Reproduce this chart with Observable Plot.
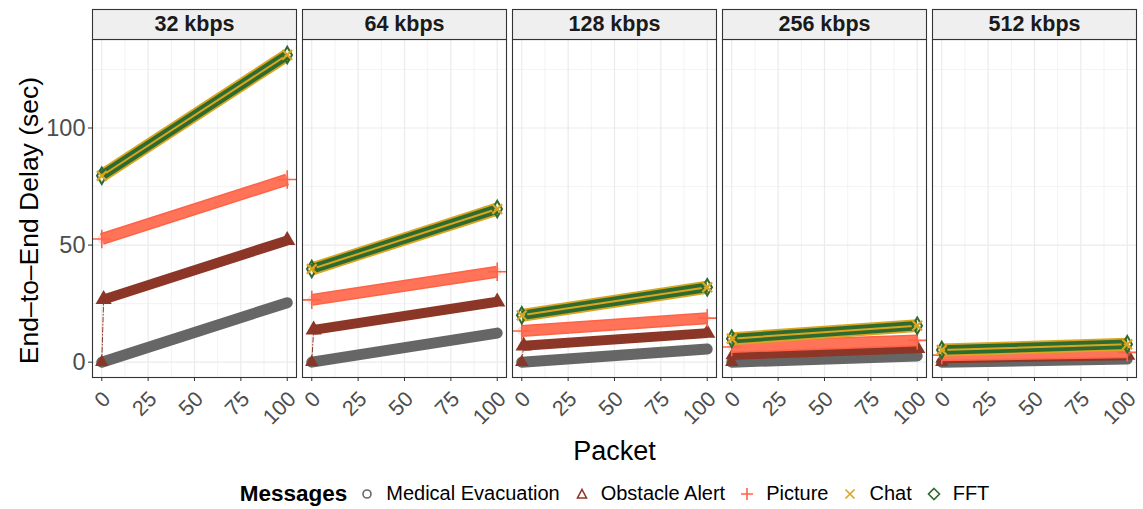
<!DOCTYPE html>
<html><head><meta charset="utf-8">
<script src="https://cdn.jsdelivr.net/npm/d3@7"></script>
<script src="https://cdn.jsdelivr.net/npm/@observablehq/plot@0.6"></script>
<style>
html,body{margin:0;padding:0;background:#fff;}
body{width:1143px;height:509px;overflow:hidden;font-family:"Liberation Sans",Arial,Helvetica,sans-serif;}
#legend{display:flex;align-items:center;justify-content:center;height:39px;font-size:20px;color:#000;padding-left:86px;padding-top:4px;}
#legend .title{font-weight:bold;font-size:22.5px;margin-right:13px;}
#legend .item{display:flex;align-items:center;margin-right:15px;}
#legend .item:last-child{margin-right:0;}
#legend svg{margin-right:12px;}
</style></head>
<body><div id="chart"></div><div id="legend"></div>
<script>
const speeds = ["32 kbps", "64 kbps", "128 kbps", "256 kbps", "512 kbps"];
const messages = ["Medical Evacuation", "Obstacle Alert", "Picture", "Chat", "FFT"];
const colors = ["#666666", "#8B3626", "#FF6347", "#DAA520", "#2E6B2E"];
const symbols = ["circle", "triangle", "plus", "times", "diamond"];
const firstPacket = 0, jumpPacket = 1, lastPacket = 100;
// delay (sec) per speed
const medicalFirst = [0, 0, 0, 0, 0];
const medicalLast = [25.4, 12.4, 5.6, 2.6, 1.3];
const obstacleFirst = [0, 0, 0, 0, 0];
const obstacleJump = [26.8, 13.8, 7.0, 3.2, 1.7];
const obstacleLast = [52.0, 25.8, 12.4, 5.9, 3.0];
const pictureFirst = [52.6, 26.6, 13.3, 6.5, 3.0];
const pictureLast = [78.0, 38.6, 18.8, 9.3, 4.2];
const chatFirst = [79.6, 39.8, 20.0, 10.0, 5.2];
const chatLast = [131.2, 65.4, 32.0, 15.6, 7.6];
const fftFirst = [79.6, 39.8, 20.0, 10.0, 5.2];
const fftLast = [131.2, 65.4, 32.0, 15.6, 7.6];
const xTicks = [0, 25, 50, 75, 100];
const xMinor = [12.5, 37.5, 62.5, 87.5];
const yTicks = [0, 50, 100];
const yMinor = [25, 75, 125];

const rows = [];
speeds.forEach((s, i) => {
  const add = (m, p, v, band) => rows.push({speed: s, message: m, packet: p, delay: v, band});
  add(messages[0], firstPacket, medicalFirst[i], true);
  add(messages[0], lastPacket, medicalLast[i], true);
  add(messages[1], firstPacket, obstacleFirst[i], false);
  add(messages[1], jumpPacket, obstacleJump[i], true);
  add(messages[1], lastPacket, obstacleLast[i], true);
  add(messages[2], firstPacket, pictureFirst[i], true);
  add(messages[2], lastPacket, pictureLast[i], true);
  add(messages[3], firstPacket, chatFirst[i], true);
  add(messages[3], lastPacket, chatLast[i], true);
  add(messages[4], firstPacket, fftFirst[i], true);
  add(messages[4], lastPacket, fftLast[i], true);
});
const of = (m) => rows.filter(d => d.message === m);
const bandOf = (m) => rows.filter(d => d.message === m && d.band);

const H = 470, mT = 39, mB = 93;
const panelH = H - mT - mB;
const common = {x: "packet", y: "delay", fx: "speed"};

const marks = [
  Plot.gridX(xMinor, {stroke: "#ebebeb", strokeOpacity: 1, strokeWidth: 0.6}),
  Plot.gridY(yMinor, {stroke: "#ebebeb", strokeOpacity: 1, strokeWidth: 0.6}),
  Plot.gridX(xTicks, {stroke: "#ebebeb", strokeOpacity: 1, strokeWidth: 1.2}),
  Plot.gridY(yTicks, {stroke: "#ebebeb", strokeOpacity: 1, strokeWidth: 1.2}),
  // thin connecting lines
  Plot.line(of(messages[1]), {...common, stroke: colors[1], strokeWidth: 1, strokeDasharray: "5,2,1,2"}),
  // bands of dense markers
  Plot.line(bandOf(messages[0]), {...common, stroke: colors[0], strokeWidth: 11, strokeLinecap: "round"}),
  Plot.dot(of(messages[1]).filter(d => d.packet === firstPacket), {...common, symbol: "triangle", fill: colors[1], r: 5}),
  Plot.line(bandOf(messages[1]), {...common, stroke: colors[1], strokeWidth: 10, strokeLinecap: "butt"}),
  Plot.dot(bandOf(messages[1]), {...common, symbol: "triangle", fill: colors[1], r: 6}),
  Plot.line(bandOf(messages[2]), {...common, stroke: colors[2], strokeWidth: 12, strokeLinecap: "butt"}),
  Plot.line(bandOf(messages[2]), {...common, stroke: "#ff9a85", strokeOpacity: 0.3, strokeWidth: 9, strokeDasharray: "1,1.87"}),
  Plot.dot(bandOf(messages[2]), {...common, symbol: "plus", stroke: colors[2], strokeWidth: 1.6, r: 6}),
  Plot.line(bandOf(messages[3]), {...common, stroke: colors[3], strokeWidth: 13, strokeLinecap: "butt"}),
  Plot.line(bandOf(messages[4]), {...common, stroke: colors[4], strokeWidth: 9.5, strokeLinecap: "butt"}),
  Plot.line(bandOf(messages[3]), {...common, stroke: colors[3], strokeWidth: 2}),
  Plot.dot(bandOf(messages[4]), {...common, symbol: "diamond", stroke: colors[4], strokeWidth: 2, r: 5}),
  Plot.dot(bandOf(messages[3]), {...common, symbol: "times", stroke: colors[3], strokeWidth: 2.2, r: 4.5}),
  // panel border & strip
  Plot.frame({stroke: "#333333", strokeWidth: 1.1}),
  Plot.frame({insetTop: -30, insetBottom: panelH, fill: "#efefef", stroke: "#333333", strokeWidth: 1.1}),
  Plot.text(speeds, {fx: d => d, text: d => d, frameAnchor: "top", lineAnchor: "middle", dy: -15, fontSize: 21.5, fontWeight: "bold", fill: "#1a1a1a"}),
  // axes: tick marks
  Plot.axisY(yTicks, {tickSize: 4, tickFormat: () => "", stroke: "#333333", label: null}),
  Plot.axisX(xTicks, {tickSize: 4, tickFormat: () => "", stroke: "#333333", label: null}),
  // axes: tick labels
  Plot.text(yTicks, {fx: () => speeds[0], y: d => d, text: d => String(d), frameAnchor: "left", textAnchor: "end", lineAnchor: "middle", dx: -7, fontSize: 23.5, fill: "#4d4d4d"}),
  Plot.text(xTicks, {x: d => d, text: d => String(d), frameAnchor: "bottom", textAnchor: "end", lineAnchor: "middle", rotate: -45, dx: 5, dy: 18, fontSize: 21.5, fill: "#4d4d4d"}),
  // axis titles
  Plot.text(["End\u2013to\u2013End Delay (sec)"], {fx: () => speeds[0], frameAnchor: "left", textAnchor: "middle", lineAnchor: "middle", rotate: -90, dx: -63, dy: 12, fontSize: 26.5, fill: "#000"}),
  Plot.text(["Packet"], {fx: () => speeds[2], frameAnchor: "bottom", lineAnchor: "middle", dy: 74, fontSize: 27, fill: "#000"})
];

const chart = Plot.plot({
  width: 1143, height: H,
  marginTop: mT, marginBottom: mB, marginLeft: 92, marginRight: 6,
  style: {fontFamily: "'Liberation Sans', Arial, sans-serif", background: "#fff", overflow: "visible"},
  fx: {domain: speeds, paddingInner: 0.027, paddingOuter: 0, axis: null, label: null},
  x: {domain: [-5, 105], label: null},
  y: {domain: [-6.55, 137.8], label: null},
  marks
});
document.getElementById("chart").appendChild(chart);

// legend
const leg = document.getElementById("legend");
const t = document.createElement("span"); t.className = "title"; t.textContent = "Messages"; leg.appendChild(t);
const shapes = {
  circle: '<circle cx="7" cy="7" r="4" fill="none" stroke-width="1.6"/>',
  triangle: '<path d="M7,2.5 L11.5,11 L2.5,11 Z" fill="none" stroke-width="1.6"/>',
  plus: '<path d="M7,1 V13 M1,7 H13" fill="none" stroke-width="1.6"/>',
  times: '<path d="M2.5,2.5 L11.5,11.5 M11.5,2.5 L2.5,11.5" fill="none" stroke-width="1.6"/>',
  diamond: '<path d="M7,1.5 L12.5,7 L7,12.5 L1.5,7 Z" fill="none" stroke-width="1.6"/>'
};
messages.forEach((m, i) => {
  const it = document.createElement("span"); it.className = "item";
  it.innerHTML = `<svg width="14" height="14" viewBox="0 0 14 14" stroke="${colors[i]}">${shapes[symbols[i]]}</svg><span>${m}</span>`;
  leg.appendChild(it);
});
</script>
</body></html>
